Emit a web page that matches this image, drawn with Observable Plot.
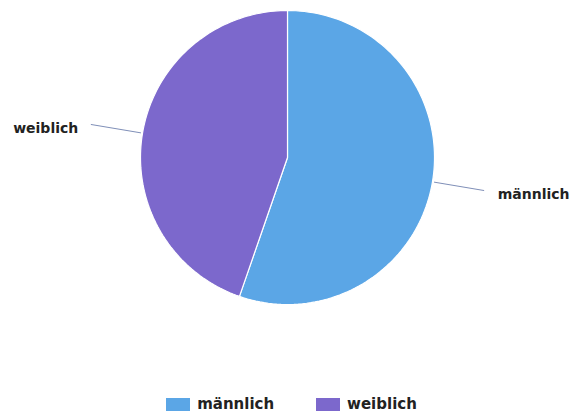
<!DOCTYPE html>
<html><head><meta charset="utf-8">
<script src="https://cdn.jsdelivr.net/npm/d3@7"></script>
<script src="https://cdn.jsdelivr.net/npm/@observablehq/plot@0.6"></script>
<style>
body{margin:0;background:#fff;font-family:"DejaVu Sans",Verdana,sans-serif;}
#legend{position:absolute;top:395px;left:0;width:570px;padding-left:13px;box-sizing:border-box;display:flex;justify-content:center;font-weight:bold;font-size:15px;color:#222;}
.item{display:flex;align-items:center;margin:0 21px;}
.sw{width:24px;height:13px;margin-right:7px;}
</style></head><body>
<div id="chart"></div>
<div id="legend"></div>
<script>
const categories = ["männlich", "weiblich"];
const values = [55.3, 44.7];
const colors = ["#5ba6e6", "#7c68cc"];

const W = 570, H = 390, cx = 287, cy = 157, R = 147;
const pie = d3.pie().sort(null).value(d => d.value)(categories.map((c,i)=>({cat:c,value:values[i]})));
const pts = [];
for (const s of pie) {
  pts.push({cat:s.data.cat, x:cx, y:cy});
  const n = 120;
  for (let k=0;k<=n;k++){
    const a = s.startAngle + (s.endAngle-s.startAngle)*k/n;
    pts.push({cat:s.data.cat, x:cx+R*Math.sin(a), y:cy-R*Math.cos(a)});
  }
  pts.push({cat:s.data.cat, x:cx, y:cy});
}
const leaders = [], labels = [];
for (const s of pie) {
  const a = (s.startAngle+s.endAngle)/2;
  const r1 = R+2, r2 = R+52;
  leaders.push({cat:s.data.cat, x:cx+r1*Math.sin(a), y:cy-r1*Math.cos(a)});
  leaders.push({cat:s.data.cat, x:cx+r2*Math.sin(a), y:cy-r2*Math.cos(a)});
  const right = Math.sin(a) > 0;
  labels.push({cat:s.data.cat, x:cx+r2*Math.sin(a)+(right?14:-13), y:cy-r2*Math.cos(a)+4, anchor: right?"start":"end"});
}
const chart = Plot.plot({
  width: W, height: H, margin: 0,
  x: {domain:[0,W], range:[0,W], axis:null},
  y: {domain:[0,H], range:[0,H], axis:null},
  color: {domain: categories, range: colors},
  marks: [
    Plot.line(pts, {x:"x", y:"y", z:"cat", fill:"cat", stroke:"white", strokeWidth:1.2, curve:"linear"}),
    Plot.line(leaders, {x:"x", y:"y", z:"cat", stroke:"#7f8fb8", strokeWidth:1}),
    Plot.text(labels.filter(d=>d.anchor==="start"), {x:"x", y:"y", text:"cat", textAnchor:"start", fontWeight:"bold", fontSize:14, fill:"#222", fontFamily:"DejaVu Sans"}),
    Plot.text(labels.filter(d=>d.anchor==="end"), {x:"x", y:"y", text:"cat", textAnchor:"end", fontWeight:"bold", fontSize:14, fill:"#222", fontFamily:"DejaVu Sans"})
  ]
});
document.getElementById("chart").append(chart);
const lg = document.getElementById("legend");
categories.forEach((c,i)=>{
  const it = document.createElement("div"); it.className="item";
  const sw = document.createElement("div"); sw.className="sw"; sw.style.background=colors[i];
  const t = document.createElement("span"); t.textContent=c;
  it.append(sw,t); lg.append(it);
});
</script>
</body></html>
